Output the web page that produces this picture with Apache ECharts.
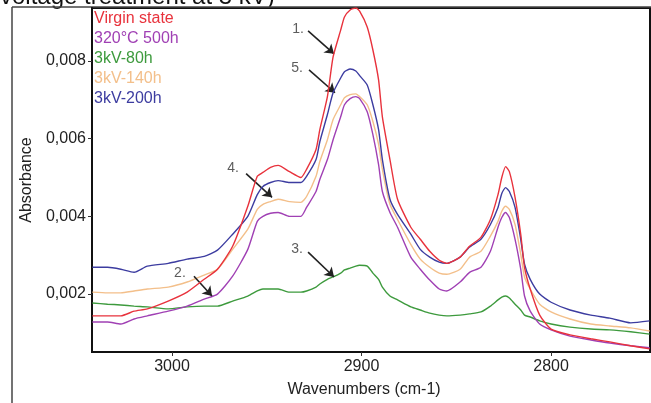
<!DOCTYPE html>
<html>
<head>
<meta charset="utf-8">
<script src="https://cdn.jsdelivr.net/npm/echarts@6/dist/echarts.min.js"></script>
<style>
html,body{margin:0;padding:0;background:#fff;}
#chart{width:651px;height:403px;}
</style>
</head>
<body>
<div id="chart"></div>
<script>
// Wavenumbers (cm-1)
const wavenumbers = [3042,3034,3027,3020,3013,3002,2992,2983,2976,2968,2960,2955,2952,2948,2944,2938,2932,2929,2924,2922,2918,2915,2911,2909,2906,2903,2901,2897,2894,2891,2889,2885,2881,2874,2869,2864,2859,2855,2848,2843,2837,2832,2828,2826,2824,2822,2819,2816,2814,2811,2806,2800,2790,2779,2769,2758,2748];

const virginState = [0.00144,0.00144,0.00144,0.00156,0.00162,0.00182,0.00205,0.00238,0.00264,0.00323,
0.00426,0.00503,0.00513,0.00526,0.00531,0.00515,0.00500,0.00521,0.00572,0.00623,
0.00708,0.00810,0.00879,0.00913,0.00931,0.00936,0.00928,0.00887,0.00828,0.00751,
0.00656,0.00546,0.00444,0.00372,0.00341,0.00310,0.00287,0.00279,0.00295,0.00323,
0.00346,0.00392,0.00456,0.00500,0.00528,0.00515,0.00449,0.00354,0.00269,0.00213,
0.00146,0.00110,0.00095,0.00085,0.00077,0.00067,0.00059];

const t320C500h = [0.00128,0.00128,0.00123,0.00136,0.00144,0.00156,0.00169,0.00187,0.00200,0.00246,
0.00315,0.00387,0.00400,0.00408,0.00410,0.00400,0.00400,0.00423,0.00464,0.00495,
0.00546,0.00597,0.00656,0.00687,0.00703,0.00708,0.00703,0.00669,0.00610,0.00533,
0.00464,0.00410,0.00372,0.00295,0.00264,0.00236,0.00213,0.00208,0.00231,0.00256,
0.00269,0.00310,0.00372,0.00397,0.00410,0.00397,0.00341,0.00264,0.00195,0.00156,
0.00123,0.00108,0.00092,0.00082,0.00074,0.00067,0.00062];

const kv80h = [0.00177,0.00174,0.00172,0.00169,0.00167,0.00162,0.00167,0.00169,0.00169,0.00182,
0.00195,0.00208,0.00213,0.00213,0.00213,0.00205,0.00205,0.00208,0.00218,0.00226,
0.00238,0.00244,0.00254,0.00262,0.00267,0.00272,0.00274,0.00272,0.00254,0.00238,
0.00218,0.00195,0.00185,0.00167,0.00159,0.00151,0.00146,0.00144,0.00146,0.00149,
0.00154,0.00169,0.00185,0.00192,0.00195,0.00190,0.00174,0.00159,0.00146,0.00141,
0.00131,0.00123,0.00115,0.00110,0.00108,0.00103,0.00097];

const kv140h = [0.00205,0.00203,0.00203,0.00208,0.00213,0.00218,0.00231,0.00249,0.00264,0.00315,
0.00367,0.00418,0.00431,0.00438,0.00444,0.00438,0.00436,0.00451,0.00503,0.00541,
0.00597,0.00649,0.00687,0.00705,0.00713,0.00715,0.00708,0.00687,0.00644,0.00585,
0.00521,0.00431,0.00392,0.00328,0.00290,0.00269,0.00254,0.00251,0.00264,0.00295,
0.00310,0.00349,0.00387,0.00413,0.00426,0.00418,0.00379,0.00303,0.00244,0.00213,
0.00174,0.00154,0.00136,0.00123,0.00118,0.00113,0.00105];

const kv200h = [0.00269,0.00269,0.00264,0.00256,0.00272,0.00279,0.00290,0.00297,0.00313,0.00354,
0.00400,0.00456,0.00477,0.00487,0.00492,0.00487,0.00487,0.00503,0.00546,0.00592,
0.00662,0.00718,0.00756,0.00772,0.00779,0.00774,0.00762,0.00738,0.00687,0.00623,
0.00546,0.00444,0.00405,0.00354,0.00315,0.00295,0.00282,0.00279,0.00295,0.00321,
0.00341,0.00379,0.00423,0.00459,0.00474,0.00464,0.00423,0.00341,0.00277,0.00238,
0.00200,0.00179,0.00159,0.00146,0.00138,0.00126,0.00131];

const seriesNames = ['Virgin state','320°C 500h','3kV-80h','3kV-140h','3kV-200h'];
const seriesColors = ['#e8323c','#a040b4','#3d9a3d','#f3bf8a','#3c3ca0'];
const xTicks = [3000,2900,2800];
const yTicks = [0.002,0.004,0.006,0.008];

// Annotation labels [x, y, text] and arrows [x1,y1,x2,y2]
const annLabels = [[2933.5,0.00882,'1.'],[2934.0,0.00782,'5.'],[2967.8,0.00523,'4.'],[2934.0,0.00315,'3.'],[2995.8,0.00254,'2.']];
const annArrows = [[2928.2,0.00877,2914.5,0.00818],[2927.7,0.00777,2914.0,0.00718],[2960.9,0.00510,2947.2,0.00449],[2928.2,0.00308,2914.5,0.00244],[2988.4,0.00246,2978.9,0.00195]];

const FONT = 'Liberation Sans, Arial, sans-serif';
const allData = [virginState, t320C500h, kv80h, kv140h, kv200h];
const drawOrder = [2,3,1,4,0];

const chart = echarts.init(document.getElementById('chart'));
const series = drawOrder.map(i => ({
  name: seriesNames[i],
  type: 'line',
  data: wavenumbers.map((w, k) => [w, allData[i][k]]),
  showSymbol: false,
  smooth: 0.2,
  lineStyle: {color: seriesColors[i], width: 1.4},
  itemStyle: {color: seriesColors[i]},
  emphasis: {disabled: true},
  z: 2 + drawOrder.indexOf(i)
}));
series.push({
  name: 'annotations',
  type: 'scatter',
  data: annLabels,
  symbolSize: 0,
  silent: true,
  z: 10,
  label: {show: true, position: 'inside', formatter: p => p.data[2], color: '#333', fontSize: 14, fontFamily: FONT},
  markLine: {
    silent: true,
    symbol: ['none','arrow'],
    symbolSize: 9,
    label: {show: false},
    lineStyle: {color: '#222', width: 1.6, type: 'solid'},
    emphasis: {disabled: true},
    data: annArrows.map(a => [{coord: [a[0], a[1]]}, {coord: [a[2], a[3]]}])
  }
});

chart.setOption({
  animation: false,
  backgroundColor: '#fff',
  grid: {left: 92, right: 1, top: 8, bottom: 50, show: true, borderColor: '#111', borderWidth: 2, backgroundColor: 'transparent'},
  legend: {
    orient: 'vertical', left: 89, top: 11, icon: 'none', itemWidth: 0, itemHeight: 16, itemGap: 4, padding: 0,
    selectedMode: false,
    textStyle: {fontSize: 16, fontFamily: FONT, lineHeight: 16},
    data: seriesNames.map((n, i) => ({name: n, textStyle: {color: seriesColors[i]}}))
  },
  xAxis: {
    type: 'value', inverse: true, min: 2747.8, max: 3042.2,
    name: 'Wavenumbers (cm-1)', nameLocation: 'middle', nameGap: 30,
    nameTextStyle: {fontSize: 16, color: '#222', fontFamily: FONT, padding: [0, 14, 0, 0]},
    axisLine: {show: true, lineStyle: {color: '#111', width: 2}},
    axisTick: {show: true, length: 4, customValues: xTicks, lineStyle: {color: '#333'}},
    axisLabel: {customValues: xTicks, fontSize: 16, color: '#222', fontFamily: FONT, margin: 7,
      formatter: v => String(Math.round(v))},
    splitLine: {show: false}
  },
  yAxis: {
    type: 'value', min: 0.00051, max: 0.00936,
    name: 'Absorbance', nameLocation: 'middle', nameGap: 57,
    nameTextStyle: {fontSize: 16, color: '#222', fontFamily: FONT},
    axisLine: {show: true, lineStyle: {color: '#111', width: 2}},
    axisTick: {show: true, length: 4, customValues: yTicks, lineStyle: {color: '#333'}},
    axisLabel: {customValues: yTicks, fontSize: 16, color: '#222', fontFamily: FONT, margin: 6,
      formatter: v => v.toFixed(3).replace('.', ',')},
    splitLine: {show: false}
  },
  graphic: [
    {type: 'text', left: 0, top: -15, style: {text: 'voltage treatment at 3 kV)', font: '24px ' + FONT, fill: '#111'}},
    {type: 'line', shape: {x1: 12, y1: 7, x2: 651, y2: 7}, style: {stroke: '#444', lineWidth: 1.5}},
    {type: 'line', shape: {x1: 12, y1: 7, x2: 12, y2: 403}, style: {stroke: '#444', lineWidth: 1.5}}
  ],
  series: series
});
</script>
</body>
</html>
